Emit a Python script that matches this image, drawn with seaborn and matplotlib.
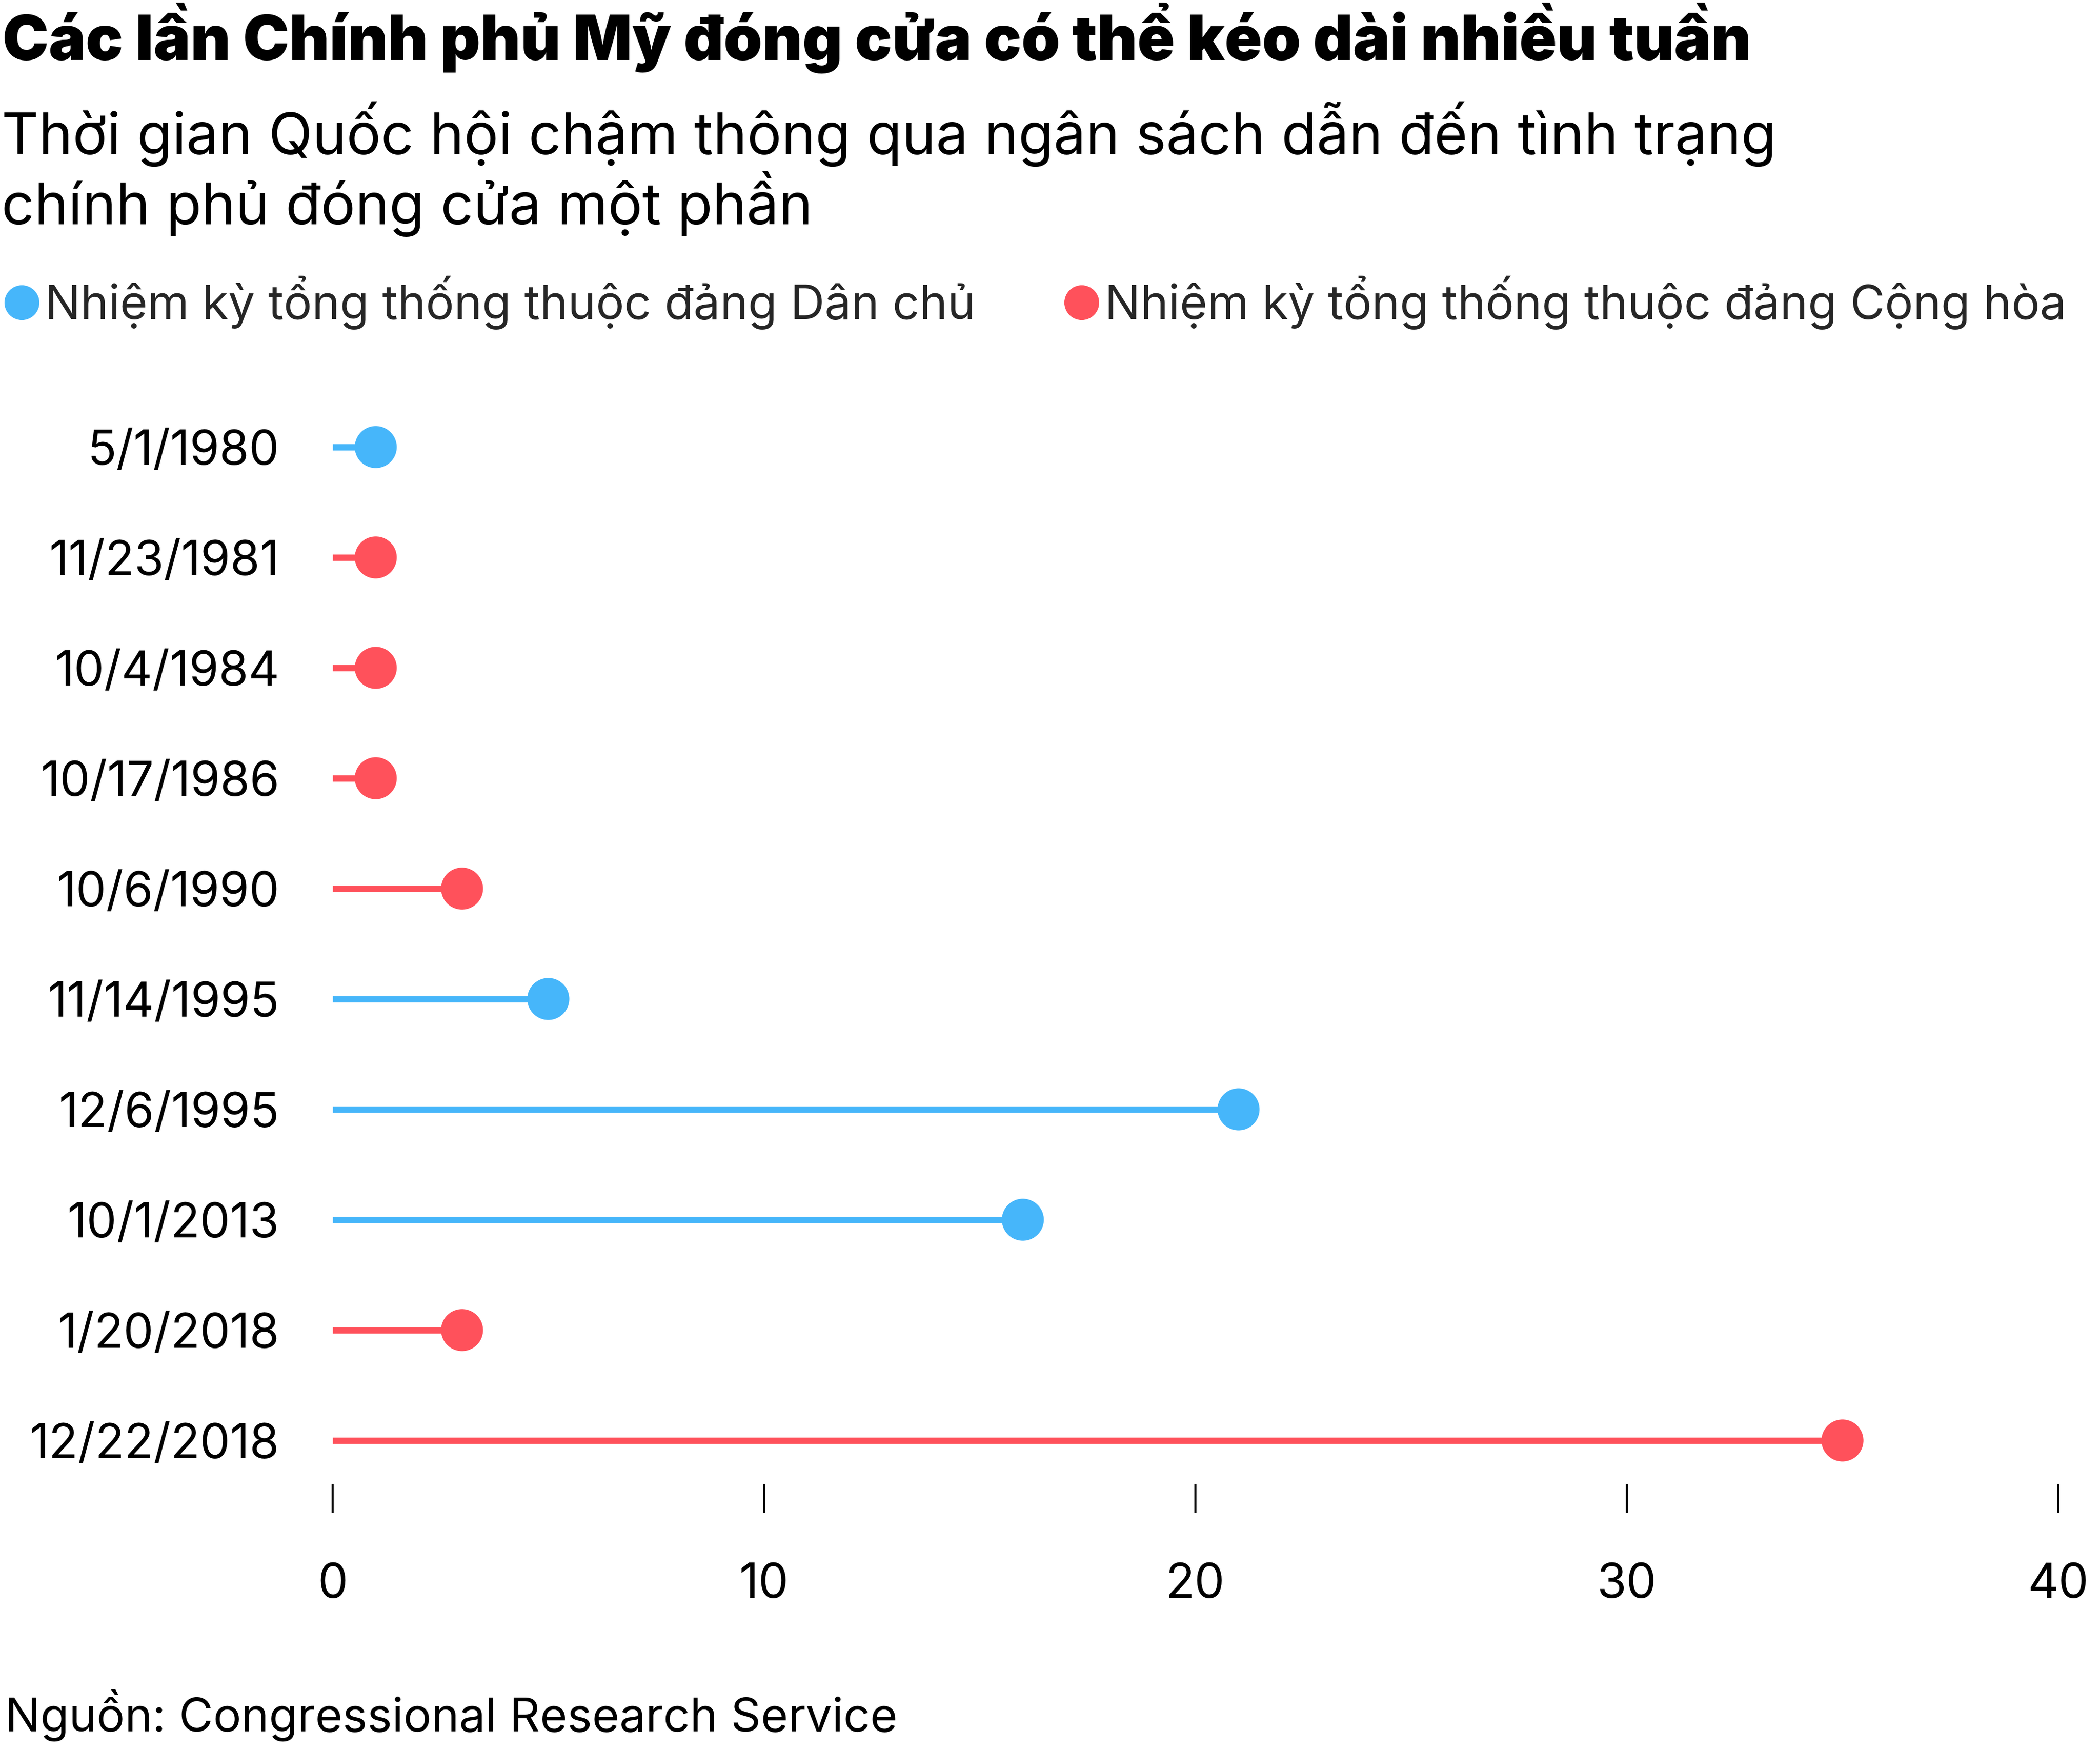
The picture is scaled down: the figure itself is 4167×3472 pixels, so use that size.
import numpy as np
import pandas as pd
import matplotlib
matplotlib.use("Agg")
import matplotlib.pyplot as plt
from matplotlib.lines import Line2D
import seaborn as sns

# ---- data ----
dates = ["5/1/1980", "11/23/1981", "10/4/1984", "10/17/1986", "10/6/1990",
         "11/14/1995", "12/6/1995", "10/1/2013", "1/20/2018", "12/22/2018"]
days = [1, 1, 1, 1, 3, 5, 21, 16, 3, 35]
party = ["Dân chủ", "Cộng hòa", "Cộng hòa", "Cộng hòa", "Cộng hòa",
         "Dân chủ", "Dân chủ", "Dân chủ", "Cộng hòa", "Cộng hòa"]
party_labels = {"Dân chủ": "Nhiệm kỳ tổng thống thuộc đảng Dân chủ",
                "Cộng hòa": "Nhiệm kỳ tổng thống thuộc đảng Cộng hòa"}
x_ticks = [0, 10, 20, 30, 40]

title = "Các lần Chính phủ Mỹ đóng cửa có thể kéo dài nhiều tuần"
subtitle1 = "Thời gian Quốc hội chậm thông qua ngân sách dẫn đến tình trạng"
subtitle2 = "chính phủ đóng cửa một phần"
source = "Nguồn: Congressional Research Service"

palette = {"Dân chủ": "#46B6FA", "Cộng hòa": "#FF515B"}

df = pd.DataFrame({"date": dates, "days": days, "party": party})

sns.set_theme(style="white")
plt.rcParams["font.family"] = ["Inter", "DejaVu Sans"]

W, H = 4167, 3472
DPI = 300
fig = plt.figure(figsize=(W / DPI, H / DPI), dpi=DPI, facecolor="white")

def fx(px):
    return px / W

def fy(py):
    return 1 - py / H

ax = fig.add_axes([fx(660), fy(2944), fx(4084 - 660), (2944 - 777.5) / H])

# stems
ax.hlines(y=df["date"], xmin=0, xmax=df["days"],
          colors=[palette[p] for p in df["party"]], linewidth=3.0,
          capstyle="butt", zorder=1)
# dots
sns.scatterplot(data=df, x="days", y="date", hue="party", palette=palette,
                s=400, linewidth=0, legend=False, ax=ax, zorder=2)

ax.set_xlim(0, 40)
ax.set_ylim(9.393, -0.5)
ax.set_xticks(x_ticks)
ax.set_xticklabels([str(t) for t in x_ticks])
ax.set_xlabel("")
ax.set_ylabel("")
for s in ax.spines.values():
    s.set_visible(False)
ax.tick_params(axis="x", direction="out", length=13.9, width=1.0, color="black",
               pad=23.5, labelsize=22.8, labelcolor="black", bottom=True)
ax.tick_params(axis="y", length=0, pad=25.3, labelsize=22.8, labelcolor="black")
ax.grid(False)
ax.set_facecolor("white")

# titles
fig.text(fx(5), fy(119), title, fontsize=29.45, fontweight="black",
         color="black", ha="left", va="baseline")
fig.text(fx(3), fy(306), subtitle1, fontsize=27.4, color="black",
         ha="left", va="baseline")
fig.text(fx(3), fy(445), subtitle2, fontsize=27.4, color="black",
         ha="left", va="baseline")

# legend
handles = [Line2D([], [], marker="o", linestyle="", markersize=16.6,
                  markerfacecolor=palette[k], markeredgewidth=0)
           for k in ["Dân chủ", "Cộng hòa"]]
labels = [party_labels[k] for k in ["Dân chủ", "Cộng hòa"]]
fig.legend(handles, labels, loc="center left", bbox_to_anchor=(fx(6), fy(600)),
           ncol=2, frameon=False, fontsize=22.55, handlelength=0.78,
           handletextpad=0.1, columnspacing=1.85, borderpad=0,
           borderaxespad=0)

# source
fig.text(fx(10), fy(3435), source, fontsize=22.3, color="black",
         ha="left", va="baseline")

fig.savefig("out.png", dpi=DPI, facecolor="white")
